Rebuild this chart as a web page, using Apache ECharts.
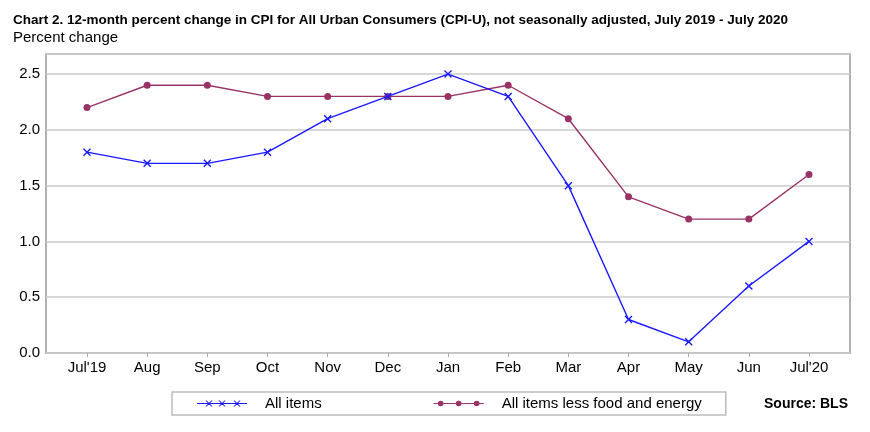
<!DOCTYPE html>
<html>
<head>
<meta charset="utf-8">
<script src="https://cdn.jsdelivr.net/npm/echarts@6/dist/echarts.min.js"></script>
<style>
html,body{margin:0;padding:0;background:#fff;}
#chart{width:870px;height:432px;}
</style>
</head>
<body>
<div id="chart"></div>
<script>
var categories = ["Jul'19","Aug","Sep","Oct","Nov","Dec","Jan","Feb","Mar","Apr","May","Jun","Jul'20"];
var allItems = [1.8,1.7,1.7,1.8,2.1,2.3,2.5,2.3,1.5,0.3,0.1,0.6,1.0];
var lessFoodEnergy = [2.2,2.4,2.4,2.3,2.3,2.3,2.3,2.4,2.1,1.4,1.2,1.2,1.6];
var seriesNames = ["All items","All items less food and energy"];
var yTicks = {min:0, max:2.68, interval:0.5};

var FONT = "'Liberation Sans', Arial, sans-serif";
var BLUE = '#1a1aff';
var PLUM = '#993366';

function xIcon(){
  var p = 'path://M0,4.4L50,4.4L50,5.6L0,5.6Z';
  [12,25,40].forEach(function(c){
    p += 'M'+(c-3.6)+',2L'+(c-2.4)+',2L'+(c+3.6)+',8L'+(c+2.4)+',8Z';
    p += 'M'+(c+2.4)+',2L'+(c+3.6)+',2L'+(c-2.4)+',8L'+(c-3.6)+',8Z';
  });
  return p;
}
function dotIcon(){
  var r = 2.8, cs = [7,25,43], p = 'path://';
  var segs = [[0,cs[0]-r],[cs[0]+r,cs[1]-r],[cs[1]+r,cs[2]-r],[cs[2]+r,50]];
  segs.forEach(function(s){
    p += 'M'+s[0]+',4.4L'+s[1]+',4.4L'+s[1]+',5.6L'+s[0]+',5.6Z';
  });
  cs.forEach(function(c){
    p += 'M'+(c-r)+',5A'+r+','+r+',0,1,1,'+(c+r)+',5A'+r+','+r+',0,1,1,'+(c-r)+',5Z';
  });
  return p;
}

var chart = echarts.init(document.getElementById('chart'), null, {renderer:'canvas'});
chart.setOption({
  animation: false,
  backgroundColor: '#fff',
  title: [
    {text: 'Chart 2. 12-month percent change in CPI for All Urban Consumers (CPI-U), not seasonally adjusted, July 2019 - July 2020',
     left: 13, top: 13, padding: 0,
     textStyle: {fontFamily: FONT, fontSize: 13.5, fontWeight: 'bold', color: '#000'}},
    {text: 'Percent change', left: 13, top: 30, padding: 0,
     textStyle: {fontFamily: FONT, fontSize: 15, fontWeight: 'normal', color: '#000'}},
    {text: 'Source: BLS', left: 764, top: 397, padding: 0,
     textStyle: {fontFamily: FONT, fontSize: 14, fontWeight: 'bold', color: '#000'}}
  ],
  legend: {
    left: 172, top: 392,
    padding: [4, 24, 4, 25],
    itemGap: 112,
    itemWidth: 50, itemHeight: 10,
    borderColor: '#bdbdbd', borderWidth: 1.5,
    textStyle: {fontFamily: FONT, fontSize: 15, color: '#000', padding: [0,0,0,13]},
    itemStyle: {borderWidth: 0},
    data: [
      {name: seriesNames[0], icon: xIcon()},
      {name: seriesNames[1], icon: dotIcon()}
    ]
  },
  grid: [
    {left: 46, right: 20, top: 54, bottom: 79, show: true, borderColor: '#999', borderWidth: 1.5, containLabel: false},
    {left: 87, right: 61, top: 54, bottom: 79, containLabel: false}
  ],
  xAxis: [
    {type: 'value', gridIndex: 0, min: 0, max: 1, show: false},
    {type: 'category', gridIndex: 1, data: categories, boundaryGap: false,
     axisLine: {show: false},
     axisTick: {show: true, length: 4, lineStyle: {color: '#aaa', width: 1}},
     axisLabel: {fontFamily: FONT, fontSize: 15, color: '#000', margin: 7},
     splitLine: {show: false}}
  ],
  yAxis: [
    {type: 'value', gridIndex: 0, min: yTicks.min, max: yTicks.max, interval: yTicks.interval,
     axisLine: {show: false}, axisTick: {show: false},
     axisLabel: {fontFamily: FONT, fontSize: 15, color: '#000', margin: 6, showMaxLabel: false,
       formatter: function(v){ return v.toFixed(1); }},
     splitLine: {show: true, lineStyle: {color: '#cccccc', width: 1.5}}},
    {type: 'value', gridIndex: 1, min: yTicks.min, max: yTicks.max, interval: yTicks.interval, show: false,
     splitLine: {show: false}}
  ],
  series: [
    {name: seriesNames[0], type: 'line', xAxisIndex: 1, yAxisIndex: 1, data: allItems,
     symbol: 'path://M0,0L10,10M10,0L0,10', symbolSize: 7, showAllSymbol: true,
     lineStyle: {color: BLUE, width: 1.4},
     itemStyle: {color: BLUE, borderColor: BLUE, borderWidth: 1.4},
     z: 3},
    {name: seriesNames[1], type: 'line', xAxisIndex: 1, yAxisIndex: 1, data: lessFoodEnergy,
     symbol: 'circle', symbolSize: 7, showAllSymbol: true,
     lineStyle: {color: PLUM, width: 1.4},
     itemStyle: {color: PLUM, borderWidth: 0},
     z: 2}
  ]
});
</script>
</body>
</html>
